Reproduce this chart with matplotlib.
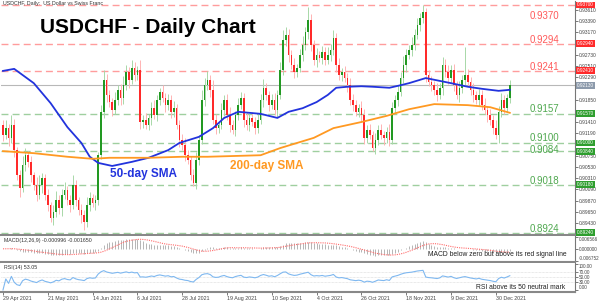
import numpy as np
import pandas as pd
import matplotlib
import matplotlib.pyplot as plt

matplotlib.use('Agg')
plt.rcParams['font.family'] = ['Liberation Sans', 'DejaVu Sans']

# USDCHF daily candles (29 Apr 2021 .. early Jan 2022)
first_open = 0.9135
closes = [
    0.9116, 0.9129, 0.9110, 0.9135, 0.9086, 0.9037, 0.9012, 0.9057, 0.9076, 0.9063,
    0.9037, 0.9018, 0.8998, 0.9018, 0.9031, 0.8998, 0.8979, 0.8953, 0.8965, 0.8988,
    0.8973, 0.8998, 0.9008, 0.8988, 0.8979, 0.9018, 0.8988, 0.8969, 0.8959, 0.8945,
    0.8979, 0.8992, 0.8983, 0.8988, 0.9076, 0.9161, 0.9223, 0.9194, 0.9180, 0.9165,
    0.9184, 0.9204, 0.9188, 0.9213, 0.9239, 0.9223, 0.9247, 0.9233, 0.9243, 0.9141,
    0.9145, 0.9135, 0.9149, 0.9168, 0.9155, 0.9184, 0.9200, 0.9188, 0.9174, 0.9184,
    0.9161, 0.9168, 0.9135, 0.9106, 0.9096, 0.9076, 0.9067, 0.9037, 0.9022, 0.9067,
    0.9106, 0.9184, 0.9213, 0.9223, 0.9204, 0.9145, 0.9129, 0.9135, 0.9165, 0.9184,
    0.9155, 0.9135, 0.9125, 0.9155, 0.9174, 0.9188, 0.9145, 0.9135, 0.9149, 0.9141,
    0.9129, 0.9145, 0.9184, 0.9208, 0.9194, 0.9174, 0.9184, 0.9165, 0.9194, 0.9243,
    0.9302, 0.9311, 0.9272, 0.9253, 0.9239, 0.9247, 0.9272, 0.9292, 0.9317, 0.9341,
    0.9292, 0.9262, 0.9272, 0.9266, 0.9278, 0.9262, 0.9272, 0.9282, 0.9305, 0.9253,
    0.9233, 0.9239, 0.9227, 0.9213, 0.9184, 0.9174, 0.9161, 0.9168, 0.9155, 0.9110,
    0.9125, 0.9116, 0.9090, 0.9106, 0.9125, 0.9116, 0.9110, 0.9122, 0.9106, 0.9168,
    0.9184, 0.9200, 0.9227, 0.9253, 0.9272, 0.9282, 0.9292, 0.9311, 0.9331, 0.9345,
    0.9356, 0.9233, 0.9219, 0.9213, 0.9204, 0.9194, 0.9208, 0.9253, 0.9239, 0.9227,
    0.9243, 0.9213, 0.9194, 0.9208, 0.9223, 0.9233, 0.9219, 0.9204, 0.9194, 0.9184,
    0.9194, 0.9174, 0.9165, 0.9155, 0.9145, 0.9129, 0.9116, 0.9161, 0.9184, 0.9168,
    0.9188, 0.9213,
]
# wick lengths beyond the body, in pips
upper_wick_pips = [
    10, 15, 8, 20, 12, 6, 10, 18, 14, 9,
    12, 7, 15, 20, 10, 8, 12, 6, 14, 18,
    10, 12, 16, 8, 10, 20, 9, 7, 12, 10,
    15, 12, 8, 10, 6, 14, 20, 12, 10, 8,
    15, 10, 12, 18, 14, 10, 15, 12, 8, 20,
    10, 14, 8, 12, 16, 10, 8, 14, 10, 12,
    9, 15, 8, 10, 12, 14, 10, 8, 12, 16,
    10, 20, 15, 18, 10, 20, 12, 8, 14, 10,
    12, 16, 10, 8, 14, 12, 10, 15, 8, 12,
    10, 14, 12, 18, 10, 8, 12, 14, 10, 16,
    20, 15, 12, 10, 14, 8, 12, 18, 10, 25,
    12, 10, 14, 8, 12, 10, 15, 12, 16, 10,
    14, 8, 12, 10, 15, 12, 10, 8, 14, 12,
    10, 12, 8, 14, 10, 12, 8, 10, 16, 12,
    10, 14, 12, 18, 12, 10, 15, 12, 14, 10,
    14, 8, 10, 12, 8, 14, 10, 16, 12, 14,
    10, 12, 8, 14, 10, 55, 12, 10, 14, 8,
    12, 10, 14, 8, 12, 10, 15, 12, 14, 10,
    8, 10,
]
lower_wick_pips = [
    12, 8, 15, 10, 14, 10, 18, 8, 12, 10,
    14, 10, 12, 8, 15, 10, 12, 8, 14, 10,
    12, 16, 8, 10, 14, 8, 12, 10, 15, 15,
    10, 12, 8, 14, 10, 8, 12, 14, 10, 12,
    8, 10, 14, 12, 10, 15, 8, 12, 10, 14,
    12, 8, 10, 14, 8, 12, 10, 8, 14, 10,
    12, 10, 8, 14, 10, 12, 8, 10, 6, 12,
    10, 8, 12, 10, 14, 8, 12, 10, 8, 12,
    10, 14, 8, 12, 10, 8, 14, 10, 12, 8,
    12, 10, 8, 14, 10, 12, 8, 10, 14, 8,
    10, 12, 14, 8, 12, 10, 8, 12, 10, 14,
    12, 10, 14, 8, 12, 10, 8, 12, 10, 14,
    10, 12, 8, 14, 10, 12, 8, 10, 14, 12,
    10, 8, 6, 12, 10, 8, 14, 10, 12, 8,
    10, 12, 8, 10, 14, 8, 12, 10, 8, 12,
    10, 14, 8, 12, 10, 12, 8, 14, 10, 12,
    10, 12, 8, 14, 10, 12, 8, 10, 14, 8,
    12, 10, 8, 14, 10, 12, 8, 16, 10, 12,
    8, 10,
]

# moving averages, sampled off the chart (bar index -> value)
sma50_idx = [0, 4, 11, 17, 23, 28, 31, 34, 39, 46, 52, 59, 63, 70, 75, 79, 84, 88, 92,
             95, 98, 102, 107, 112, 116, 119, 123, 128, 132, 138, 142, 145, 151, 160,
             166, 171, 177, 181]
sma50 = [0.9241, 0.9245, 0.9217, 0.9178, 0.9131, 0.9100, 0.9073, 0.9061, 0.9055, 0.9063,
         0.9071, 0.9086, 0.9100, 0.9112, 0.9129, 0.9149, 0.9161, 0.9159, 0.9157,
         0.9153, 0.9149, 0.9161, 0.9168, 0.9180, 0.9194, 0.9208, 0.9210, 0.9211, 0.9210,
         0.9208, 0.9213, 0.9217, 0.9227, 0.9217, 0.9210, 0.9206, 0.9202, 0.9204]
sma200_idx = [0, 11, 23, 32, 38, 52, 64, 73, 92, 99, 111, 118, 128, 137, 145, 154, 166,
              174, 181]
sma200 = [0.9084, 0.9080, 0.9073, 0.9069, 0.9071, 0.9071, 0.9073, 0.9073, 0.9076, 0.9090,
          0.9110, 0.9129, 0.9141, 0.9153, 0.9166, 0.9176, 0.9174, 0.9170, 0.9159]

resistance_levels = [0.9370, 0.9294, 0.9241]
support_levels = [0.9157, 0.9100, 0.9084, 0.9018, 0.8924]

date_ticks = [0, 16, 32, 48, 64, 80, 96, 112, 128, 144, 160, 176]
date_labels = ['29 Apr 2021', '21 May 2021', '14 Jun 2021', '6 Jul 2021', '28 Jul 2021',
               '19 Aug 2021', '10 Sep 2021', '4 Oct 2021', '26 Oct 2021', '18 Nov 2021',
               '9 Dec 2021', '30 Dec 2021']

macd_header = 'MACD(12,26,9) -0.000996 -0.001650'
rsi_header = 'RSI(14) 53.05'

# ---------------------------------------------------------------------------
c = np.array(closes)
o = np.concatenate([[first_open], c[:-1]])
hi = np.maximum(o, c) + np.array(upper_wick_pips) * 1e-4
lo = np.minimum(o, c) - np.array(lower_wick_pips) * 1e-4
idx = np.arange(len(c))
up = c >= o

# indicators (MT4 style: MACD main as histogram, SMA signal; RSI 14)
s = pd.Series(closes)
macd = s.ewm(span=12, adjust=False).mean() - s.ewm(span=26, adjust=False).mean()
signal = macd.rolling(9, min_periods=1).mean()
delta = pd.Series(c - o)
gain = delta.clip(lower=0).ewm(alpha=1 / 14, adjust=True).mean()
loss = (-delta.clip(upper=0)).ewm(alpha=1 / 14, adjust=True).mean()
rsi = 100 - 100 / (1 + gain / loss)

W, H = 600, 301
RIGHT = 575
fig = plt.figure(figsize=(6, 3.01), dpi=100)


def px_axes(x0, y0, x1, y1):
    return fig.add_axes([x0 / W, 1 - y1 / H, (x1 - x0) / W, (y1 - y0) / H])


def edge_labels(a):
    # keep the top/bottom scale labels inside their own panel
    ticks = a.yaxis.get_major_ticks()
    ticks[0].label2.set_va('top')
    ticks[-1].label2.set_va('bottom')


ax = px_axes(1, 1, RIGHT, 235)
ax_macd = px_axes(1, 236, RIGHT, 262)
ax_rsi = px_axes(1, 263, RIGHT, 292)
span = RIGHT - 1

xlim = (-0.71, (RIGHT - 3) / 2.8)
for a in (ax, ax_macd, ax_rsi):
    a.set_xlim(*xlim)
    a.spines['left'].set_visible(False)
    a.spines['top'].set_visible(False)
    a.spines['right'].set_color('#777777')
    a.spines['right'].set_linewidth(0.8)
    a.spines['bottom'].set_color('#888888')
    a.spines['bottom'].set_linewidth(1.5)
    a.yaxis.tick_right()
    a.tick_params(axis='y', labelsize=3.5, length=2, pad=1, width=0.5,
                  colors='#444444')
for a in (ax, ax_macd):
    a.set_xticks([])

# --- price panel ---
ax.set_ylim(0.89199, 0.93778)
ax.axhline(c[-1], color='#b8b8b8', lw=0.8, zorder=0.5)
for lvl in resistance_levels:
    ax.axhline(lvl, color='#ff9c9c', lw=1, dashes=(5, 3), zorder=0.6)
for lvl in support_levels:
    ax.axhline(lvl, color='#9fcf9f', lw=1, dashes=(5, 3), zorder=0.6)

ax.vlines(idx[up], lo[up], hi[up], color='#a8d8a8', lw=0.7, zorder=2)
ax.vlines(idx[~up], lo[~up], hi[~up], color='#ffb3b3', lw=0.7, zorder=2)
body = np.maximum(np.abs(c - o), 0.00015)
bottom = np.minimum(o, c)
ax.bar(idx[up], body[up], bottom=bottom[up], width=0.62, color='#229922', lw=0, zorder=3)
ax.bar(idx[~up], body[~up], bottom=bottom[~up], width=0.62, color='#ff2a2a', lw=0, zorder=3)

ax.plot(sma50_idx, sma50, color='#2233dd', lw=1.3, zorder=4)
ax.plot(sma200_idx, sma200, color='#ff9922', lw=1.3, zorder=4)

# right-hand price scale; labels hidden where a level box covers them
boxed = resistance_levels + support_levels + [c[-1]]
price_ticks = [0.8943 + 0.0022 * k for k in range(20)]
price_ticks = [t for t in price_ticks if min(abs(t - b) for b in boxed) > 0.0007]
ax.set_yticks(price_ticks)
ax.set_yticklabels([f'{t:.5f}' for t in price_ticks])

ytr = ax.get_yaxis_transform()
lab_x = (530 - 1) / span
# baseline shift of each level label relative to its line (price units)
lab_shift = {0.9370: -0.0027, 0.9294: 0.0002, 0.9241: 0.0002, 0.9157: 0.0004,
             0.9100: 0.0004, 0.9084: -0.0003, 0.9018: 0.0002, 0.8924: 0.0002}
for levels, txt_col, box_col in ((resistance_levels, '#ff5a5a', '#ff2a2a'),
                                 (support_levels, '#4fa84f', '#2e9e2e')):
    for lvl in levels:
        ax.text(lab_x, lvl + lab_shift[lvl], f'{lvl:.4f}', transform=ytr,
                color=txt_col, fontsize=7, va='baseline', ha='left')
        ax.text(1.004, lvl, f'{lvl:.5f}', transform=ytr, color='white',
                fontsize=3.4, va='center', ha='left', clip_on=False, zorder=10,
                bbox=dict(boxstyle='square,pad=0.2', fc=box_col, ec='none'))
ax.text(1.004, c[-1], f'{c[-1]:.5f}', transform=ytr, color='white',
        fontsize=3.4, va='center', ha='left', clip_on=False, zorder=10,
        bbox=dict(boxstyle='square,pad=0.2', fc='#8c9aab', ec='none'))

ax.text(39 / span, 0.888, 'USDCHF - Daily Chart', transform=ax.transAxes, fontsize=15,
        fontweight='bold', va='center', ha='left')
ax.text(109 / span, 0.9040, '50-day SMA', color='#2233dd', fontsize=8.5,
        fontweight='bold', transform=ytr, va='center')
ax.text(229 / span, 0.9055, '200-day SMA', color='#ff9922', fontsize=8.5,
        fontweight='bold', transform=ytr, va='center')
fig.text(3 / W, 1 - 4 / H, 'USDCHF, Daily:  US Dollar vs Swiss Franc', fontsize=3.8,
         color='#333333', va='center')

# --- MACD panel ---
ax_macd.set_ylim(-0.0072, 0.0070)
ax_macd.vlines(idx, 0, macd, color='#b5b5b5', lw=0.7)
ax_macd.plot(idx, signal, color='#ff6b6b', lw=0.8, ls=(0, (1, 1)))
ax_macd.set_yticks([0.006566, 0.0, -0.006752])
ax_macd.set_yticklabels(['0.006566', '0.000000', '-0.006752'])
ax_macd.tick_params(axis='y', labelsize=3.3)
edge_labels(ax_macd)
ax_macd.text(0.005, 0.93, macd_header, transform=ax_macd.transAxes, fontsize=3.8,
             color='#333333', va='top')
ax_macd.text(427 / span, 0.3, 'MACD below zero but above its red signal line',
             transform=ax_macd.transAxes, fontsize=4.9, color='#222222', va='center')

# --- RSI panel ---
ax_rsi.set_ylim(-7.7, 103.8)
for lvl in (30, 50, 70):
    ax_rsi.axhline(lvl, color='#d4d4d4', lw=0.5, ls=(0, (1, 1)))
ax_rsi.plot(idx, rsi, color='#7fb8f0', lw=0.8)
ax_rsi.set_yticks([100, 70, 50, 30, 0])
ax_rsi.set_yticklabels(['100.00', '70.00', '50.00', '30.00', '0.00'])
ax_rsi.tick_params(axis='y', labelsize=3.3)
edge_labels(ax_rsi)
ax_rsi.text(0.005, 0.93, rsi_header, transform=ax_rsi.transAxes,
            fontsize=3.8, color='#333333', va='top')
ax_rsi.text(475 / span, 0.15, 'RSI above its 50 neutral mark', transform=ax_rsi.transAxes,
            fontsize=4.9, color='#222222', va='center')
ax_rsi.set_xticks(date_ticks)
ax_rsi.set_xticklabels(date_labels, ha='left')
ax_rsi.tick_params(axis='x', labelsize=3.8, length=2, pad=1, width=0.5, colors='#444444')

fig.savefig('out.png', dpi=100)
